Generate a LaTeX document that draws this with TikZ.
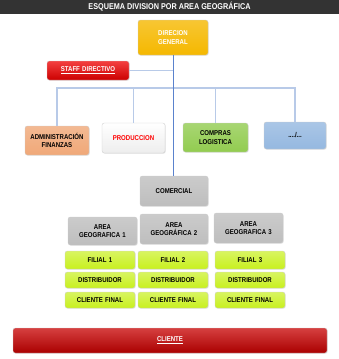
\documentclass[tikz,border=0pt]{standalone}
\usepackage{fontspec}
\setmainfont{Liberation Sans}[FakeStretch=0.86]
\usetikzlibrary{shadows}
\definecolor{titlegray}{RGB}{51,51,51}
\definecolor{dirgold}{RGB}{245,184,0}
\definecolor{staffred}{RGB}{240,0,0}
\definecolor{adminsalmon}{RGB}{240,168,120}
\definecolor{compgreen}{RGB}{146,204,80}
\definecolor{dotsblue}{RGB}{149,184,224}
\definecolor{areagray}{RGB}{190,190,190}
\definecolor{filialgreen}{RGB}{200,240,30}
\definecolor{clientred}{RGB}{200,0,0}
\definecolor{mainblue}{RGB}{90,130,205}
\definecolor{busblue}{RGB}{184,202,232}
\def\px{0.03cm}

\tikzset{
  box/.style={rounded corners=2pt, draw=white!80!black, line width=0.3pt,
    align=center, inner sep=0pt, text width=#1*\px-4pt,
    minimum width=#1*\px,
    font=\fontsize{6}{7}\selectfont\bfseries,
    drop shadow={opacity=0.25, shadow xshift=0.6pt, shadow yshift=-0.6pt}},
  box/.default=68,
  bus/.style={busblue, line width=1.1pt},
}

\begin{document}
\begin{tikzpicture}[x=\px, y=-\px]
\useasboundingbox (0,0) rectangle (339,359);

%title
\fill[titlegray] (0,0) rectangle (339,14);
\node[white, font=\fontsize{7.2}{8}\selectfont\bfseries] (title) at (169.5,7)
  {ESQUEMA DIVISION POR AREA GEOGR\'AFICA};

%top level
\node[box=70, minimum height=35*\px, top color=dirgold!80!white, bottom color=dirgold, text=white]
  (dir) at (173,37.5) {DIRECION\\GENERAL};
\node[box=82, minimum height=19*\px, top color=staffred!75!white, bottom color=staffred!85!black, text=white]
  (staff) at (88,70.5) {\underline{STAFF DIRECTIVO}};

%departments
\node[box=64, minimum height=29*\px, top color=adminsalmon!80!white, bottom color=adminsalmon, text=black]
  (admin) at (57,140.5) {ADMINISTRACI\'ON\\FINANZAS};
\node[box=63, minimum height=30*\px, top color=white, bottom color=white!93!black, text=red]
  (prod) at (133.5,138) {PRODUCCION};
\node[box=65, minimum height=29*\px, top color=compgreen!80!white, bottom color=compgreen, text=black]
  (comp) at (215.5,137.5) {COMPRAS\\LOGISTICA};
\node[box=62, minimum height=27*\px, top color=dotsblue!80!white, bottom color=dotsblue, text=black]
  (dots) at (295,135.5) {..../...};
\node[box=68, minimum height=30*\px, top color=areagray!80!white, bottom color=areagray, text=black]
  (com) at (174,191) {COMERCIAL};

%areas
\node[box=69, minimum height=28*\px, top color=areagray!80!white, bottom color=areagray]
  (area1) at (102.5,231) {AREA\\GEOGRAFICA 1};
\node[box=68, minimum height=30*\px, top color=areagray!80!white, bottom color=areagray]
  (area2) at (174,229) {AREA\\GEOGR\'AFICA 2};
\node[box=69, minimum height=30*\px, top color=areagray!80!white, bottom color=areagray]
  (area3) at (248.5,228) {AREA\\GEOGRAFICA 3};

%filiales
\foreach \i/\x in {1/100,2/173,3/250}{
  \node[box=70, minimum height=18*\px, top color=filialgreen!70!white, bottom color=filialgreen]
    (fil\i) at (\x,260) {FILIAL \i};
  \node[box=70, minimum height=16*\px, top color=filialgreen!70!white, bottom color=filialgreen]
    (dis\i) at (\x,280) {DISTRIBUIDOR};
  \node[box=70, minimum height=16*\px, top color=filialgreen!70!white, bottom color=filialgreen]
    (cli\i) at (\x,300) {CLIENTE FINAL};
}

%cliente
\node[box=314, minimum height=25*\px, top color=clientred!75!white, bottom color=clientred!85!black, text=white]
  (cliente) at (170,340.5) {\underline{CLIENTE}};

%connectors
\coordinate (bus) at (173,88);
\draw[bus] (staff.east) -- (staff.east -| dir.south);
\draw[bus] (admin.north) |- (dots.north |- bus) -- (dots.north);
\draw[bus] (prod.north) -- (prod.north |- bus);
\draw[bus] (comp.north) -- (comp.north |- bus);
\draw[mainblue, line width=0.8pt] (dir.south) -- (dir.south |- com.north);
\end{tikzpicture}
\end{document}
